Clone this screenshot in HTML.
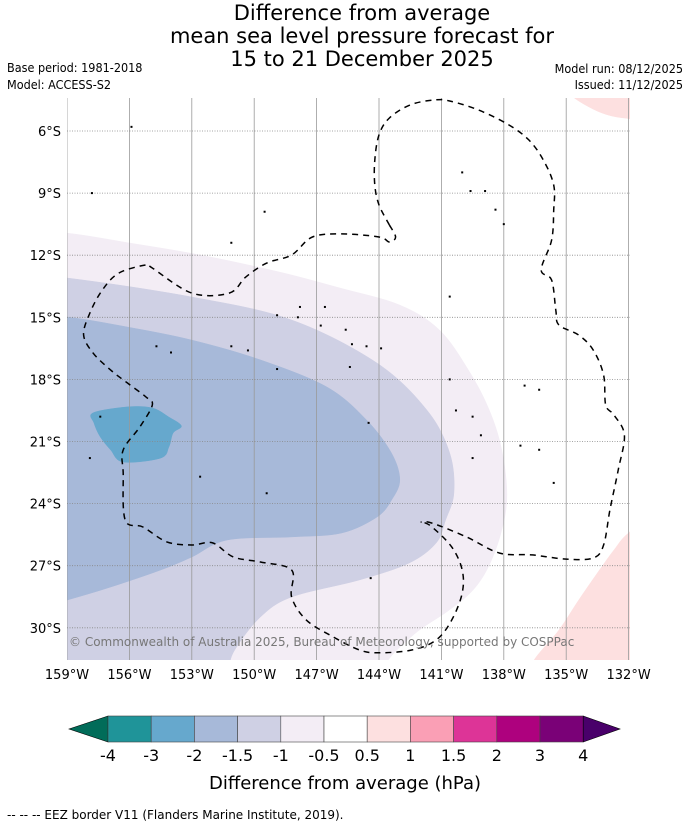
<!DOCTYPE html>
<html><head><meta charset="utf-8"><style>
html,body{margin:0;padding:0;background:#fff;}
svg{display:block;font-family:"DejaVu Sans","Liberation Sans",sans-serif;}
.cond{font-family:"DejaVu Sans Condensed","DejaVu Sans","Liberation Sans",sans-serif;}
</style></head><body>
<svg id="chart" width="690" height="827" viewBox="0 0 690 827">
<g font-size="21" text-anchor="middle" fill="#000">
<text x="362" y="20">Difference from average</text>
<text x="362" y="43">mean sea level pressure forecast for</text>
<text x="362" y="66">15 to 21 December 2025</text>
</g>
<g class="cond" font-size="12.5" fill="#000">
<text x="7" y="72">Base period: 1981-2018</text>
<text x="7" y="89">Model: ACCESS-S2</text>
<text x="683" y="73" text-anchor="end">Model run: 08/12/2025</text>
<text x="683" y="89" text-anchor="end">Issued: 11/12/2025</text>
</g>
<defs><clipPath id="mapclip"><rect x="67" y="98" width="563" height="562"/></clipPath></defs>
<g id="map" clip-path="url(#mapclip)">
<rect x="67" y="98" width="563" height="562" fill="#fff"/>
<g id="contours"></g>
<g id="grid"></g>
<g id="islands"></g>
<g id="eez"></g>
<text x="69" y="646" font-size="12" fill="#777">© Commonwealth of Australia 2025, Bureau of Meteorology, supported by COSPPac</text>
</g>
<g id="axes" font-size="13" fill="#000"></g>
<g id="colorbar"></g>
<text x="345" y="789" font-size="18" text-anchor="middle">Difference from average (hPa)</text>
<text x="7" y="819" font-size="12">--  --  -- EEZ border V11 (Flanders Marine Institute, 2019).</text>
</svg>
<script>
// Axis domain (degrees West / degrees South)
const lonTicks = [159,156,153,150,147,144,141,138,135,132];
const latTicks = [6,9,12,15,18,21,24,27,30];
// Contour levels (hPa), each polygon of [degW, degS]
const levelNeg05 = [[162,10.7],[159,10.93],[156,11.41],[152.6,11.99],[148.8,12.81],[145.9,13.58],[143.0,14.41],[141.1,15.61],[139.7,17.55],[138.7,19.48],[138.1,21.41],[137.85,23.58],[138.1,25.28],[138.7,26.97],[139.5,28.2],[140.7,29.2],[142.3,30.3],[143.7,31.8],[143.5,33],[162,33]];
const levelNeg1 = [[162,12.9],[159,13.10],[153.0,14.02],[148.2,15.13],[144.1,17.21],[141.7,19.48],[140.6,21.56],[140.4,23.49],[140.8,24.79],[141.25,25.90],[142.55,26.87],[144.95,27.69],[148.2,28.51],[149.7,29.48],[150.85,30.93],[151.2,31.8],[151.3,33],[162,33]];
const levelNeg15 = [[162,14.8],[159,14.99],[156.1,15.47],[153.0,16.10],[149.7,17.06],[146.5,18.37],[144.6,19.96],[143.4,21.56],[143.0,22.86],[143.4,23.83],[144.1,24.65],[145.8,25.42],[148.2,25.61],[151.3,25.76],[153.0,26.58],[154.5,27.21],[156.9,28.03],[159,28.66],[162,29.5]];
const levelNeg2 = [[157.75,19.62],[156.1,19.33],[154.9,19.38],[154.1,19.82],[153.5,20.25],[153.9,20.59],[154.1,21.26],[154.5,21.8],[156.3,21.99],[156.9,21.41],[157.4,20.78],[157.7,20.11]];
const levelPos05a = [[134.8,4.0],[134.6,4.41],[133.4,5.08],[132.2,5.37],[130.5,5.37],[130,3],[134.8,3]];
const levelPos05b = [[136.9,32.5],[136.55,31.56],[135.35,30.11],[134.4,28.66],[133.4,27.21],[132.7,26.24],[132,25.42],[130.5,24.5],[130,33]];
const contourLevels = [
  {name:'level-minus-0-5', pts:levelNeg05, color:'#f3edf5'},
  {name:'level-minus-1', pts:levelNeg1, color:'#cfd0e4'},
  {name:'level-minus-1-5', pts:levelNeg15, color:'#a7b9d9'},
  {name:'level-minus-2', pts:levelNeg2, color:'#66a8cd'},
  {name:'level-plus-0-5-north', pts:levelPos05a, color:'#fde0e0'},
  {name:'level-plus-0-5-south', pts:levelPos05b, color:'#fde0e0'}
];
// EEZ border lines [degW, degS]
const eezEast = [[143.5,10.54],[144.0,9.57],[144.2,8.61],[144.2,7.40],[144.0,6.19],[143.5,5.37],[142.5,4.74],[141.35,4.50],[140.6,4.55],[139.2,4.99],[137.75,5.71],[136.8,6.43],[136.1,7.40],[135.6,8.61],[135.6,9.82],[135.7,11.27],[136.2,12.71],[135.7,13.20],[135.5,14.65],[135.35,15.37],[134.4,15.86],[133.7,16.58],[133.2,17.79],[133.1,19.24],[132.7,19.72],[132.2,20.69],[132.5,22.38],[132.9,24.31],[133.2,26.0],[133.7,26.63],[135.0,26.68],[136.65,26.48],[138.2,26.39],[139.8,25.61],[141.45,24.94],[142.0,24.89]];
const eezWest = [[143.5,10.54],[143.2,11.12],[143.5,11.36],[144.0,11.12],[145.8,10.97],[147.2,11.12],[148.2,11.99],[149.4,12.38],[150.4,13.05],[151.2,13.83],[153.0,13.83],[154.9,12.62],[155.2,12.47],[156.5,12.86],[157.3,13.68],[157.9,14.79],[158.2,15.85],[157.75,16.72],[156.9,17.55],[156.1,18.17],[155.2,18.85],[154.9,19.24],[155.5,20.30],[156.3,21.41],[156.3,22.52],[156.2,24.79],[155.35,25.13],[154.2,25.85],[153.0,26.0],[152.0,25.90],[151.0,26.58],[149.7,26.82],[148.2,27.21],[148.2,28.51],[147.5,29.62],[146.2,30.44],[144.95,31.07],[144.0,31.21],[142.4,31.07],[141.25,30.59],[140.5,29.62],[140.0,28.32],[140.0,27.21],[140.5,26.10],[141.45,25.13],[141.9,24.89]];
// islands [degW, degS]
const islandPts = [[155.9,5.8],[157.8,9.0],[149.5,9.9],[151.1,11.4],[140.6,14.0],[140.0,8.0],[139.6,8.9],[138.9,8.9],[138.4,9.8],[138.0,10.5],[147.8,14.5],[146.6,14.5],[148.9,14.9],[147.9,15.0],[146.8,15.4],[145.6,15.6],[145.3,16.3],[144.6,16.4],[143.9,16.5],[151.1,16.4],[150.3,16.6],[148.9,17.5],[145.4,17.4],[140.6,18.0],[140.3,19.5],[137.0,18.3],[136.3,18.5],[139.5,19.8],[139.1,20.7],[139.5,21.8],[137.2,21.2],[136.3,21.4],[135.6,23.0],[144.5,20.1],[152.6,22.7],[149.4,23.5],[144.4,27.6],[154.7,16.4],[154.0,16.7],[157.4,19.8],[157.9,21.8]];
const x = w => 67 + (159 - w) * 20.8;
const y = s => 131 + (s - 6) * 20.7;
const NS = 'http://www.w3.org/2000/svg';
const mk = (tag, attrs, parent) => { const e = document.createElementNS(NS, tag); for (const k in attrs) e.setAttribute(k, attrs[k]); parent.appendChild(e); return e; };
function smoothPath(pts, closed) {
  const P = pts.map(q => [x(q[0]), y(q[1])]);
  const n = P.length;
  const get = i => closed ? P[(i + n) % n] : P[Math.max(0, Math.min(n - 1, i))];
  let d = 'M' + P[0][0].toFixed(1) + ',' + P[0][1].toFixed(1);
  const segs = closed ? n : n - 1;
  for (let i = 0; i < segs; i++) {
    const p0 = get(i - 1), p1 = get(i), p2 = get(i + 1), p3 = get(i + 2);
    const c1 = [p1[0] + (p2[0] - p0[0]) / 6, p1[1] + (p2[1] - p0[1]) / 6];
    const c2 = [p2[0] - (p3[0] - p1[0]) / 6, p2[1] - (p3[1] - p1[1]) / 6];
    d += 'C' + c1.map(v => v.toFixed(1)).join(',') + ' ' + c2.map(v => v.toFixed(1)).join(',') + ' ' + p2.map(v => v.toFixed(1)).join(',');
  }
  return d + (closed ? 'Z' : '');
}
const cg = document.getElementById('contours');
contourLevels.forEach(lv => {
  const p = mk('path', {d: smoothPath(lv.pts, true), fill: lv.color, stroke: lv.color, 'stroke-width': 0.5}, cg);
  
  
});
const gg = document.getElementById('grid');
const ax = document.getElementById('axes');
lonTicks.forEach(w => {
  const l = mk('line', {x1: x(w), x2: x(w), y1: 98, y2: 660, stroke: '#999', 'stroke-width': 0.8}, gg);
  
  
  const t = mk('text', {x: x(w), y: 679, 'text-anchor': 'middle'}, ax);
  t.textContent = w + '°W';
  
  
});
latTicks.forEach(s => {
  const l = mk('line', {x1: 67, x2: 630, y1: y(s), y2: y(s), stroke: '#888', 'stroke-width': 0.8, 'stroke-dasharray': '1,1.5'}, gg);
  
  
  const t = mk('text', {x: 61, y: y(s) + 5, 'text-anchor': 'end'}, ax);
  t.textContent = s + '°S';
  
  
});
const ig = document.getElementById('islands');
islandPts.forEach(q => {
  const c = mk('rect', {x: x(q[0]) - 1, y: y(q[1]) - 1, width: 2, height: 2, fill: '#000'}, ig);
  
  
});
const eg = document.getElementById('eez');
[eezEast, eezWest].forEach((line, i) => {
  const p = mk('path', {d: smoothPath(line, false), fill: 'none', stroke: '#000', 'stroke-width': 1.5, 'stroke-dasharray': '6,5'}, eg);
  
  
});
// Colorbar
const cbLabels = ['-4','-3','-2','-1.5','-1','-0.5','0.5','1','1.5','2','3','4'];
const cbColors = ['#1f9499','#66a8cd','#a7b9d9','#cfd0e4','#f3edf5','#ffffff','#fde0e0','#fa9fb5','#dd3497','#ae017e','#7a0177'];
const cbg = document.getElementById('colorbar');
const cbX0 = 108, cbW = 43.2, cbY = 716, cbH = 26;
let t1 = mk('polygon', {points: `69,${cbY+cbH/2} ${cbX0},${cbY} ${cbX0},${cbY+cbH}`, fill: '#016c59', stroke: '#000', 'stroke-width': 0.6}, cbg);


cbColors.forEach((c, i) => {
  const r = mk('rect', {x: cbX0 + i*cbW, y: cbY, width: cbW, height: cbH, fill: c, stroke: '#444', 'stroke-width': 0.6}, cbg);
  
  
});
const xe = cbX0 + cbColors.length*cbW;
let t2 = mk('polygon', {points: `${xe},${cbY} 620,${cbY+cbH/2} ${xe},${cbY+cbH}`, fill: '#49006a', stroke: '#000', 'stroke-width': 0.6}, cbg);


cbLabels.forEach((lab, i) => {
  const t = mk('text', {x: cbX0 + i*cbW, y: 761, 'font-size': 16, 'text-anchor': 'middle'}, cbg);
  t.textContent = lab;
  
  
});
</script>
</body></html>
